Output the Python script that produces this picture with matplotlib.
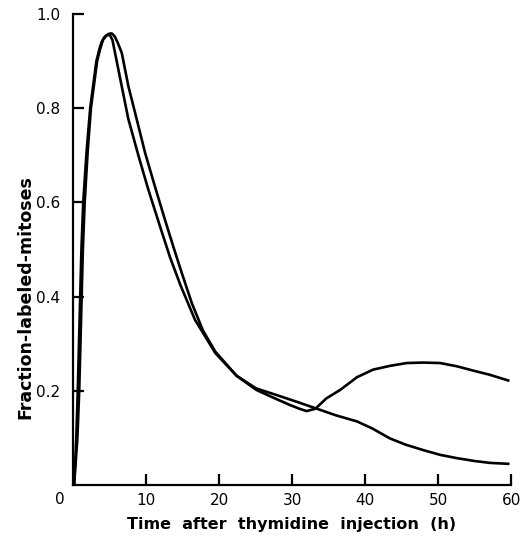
import matplotlib.pyplot as plt
from matplotlib.transforms import blended_transform_factory

# curve with the second wave
t_wave = [0.15, 0.6, 0.85, 1.1, 1.35, 1.6, 2.0, 2.45, 3.3, 3.7, 4.1, 4.5, 4.9, 5.3, 5.7,
          6.1, 6.67, 7.58, 8.72, 9.86, 11.2, 12.5, 13.7, 14.9, 16.3, 17.8, 19.5, 22.4, 25.1,
          27.5, 29.7, 31.0, 32.0, 33.2, 34.7, 36.6, 38.9, 41.1, 43.4, 45.7, 48.0, 50.3,
          52.6, 54.8, 57.1, 59.6]
y_wave = [0.0, 0.1, 0.2, 0.35, 0.5, 0.6, 0.706, 0.8, 0.9, 0.925, 0.945, 0.953, 0.958, 0.959, 0.953,
          0.94, 0.918, 0.847, 0.777, 0.706, 0.635, 0.568, 0.508, 0.45, 0.385, 0.328, 0.283, 0.232, 0.202,
          0.185, 0.170, 0.162, 0.157, 0.162, 0.184, 0.202, 0.229, 0.245, 0.253, 0.259, 0.260, 0.259,
          0.252, 0.243, 0.234, 0.222]

# curve that keeps falling
t_fall = [0.15, 0.45, 0.65, 0.9, 1.15, 1.4, 1.85, 2.35, 3.2, 3.6, 3.9, 4.3, 4.7, 5.07, 5.4,
          5.75, 6.67, 7.58, 8.95, 10.3, 11.9, 13.3, 14.7, 16.7, 19.5, 22.4, 25.1, 27.5,
          30.6, 33.4, 36.0, 38.9, 41.0, 43.4, 45.5, 48.0, 50.3, 52.6, 55.0, 57.1, 59.6]
y_fall = [0.0, 0.1, 0.2, 0.35, 0.5, 0.6, 0.706, 0.8, 0.9, 0.925, 0.94, 0.951, 0.956, 0.955, 0.945,
          0.918, 0.847, 0.777, 0.70, 0.628, 0.55, 0.483, 0.425, 0.351, 0.280, 0.232, 0.205, 0.193,
          0.177, 0.162, 0.148, 0.135, 0.12, 0.099, 0.086, 0.074, 0.064, 0.057, 0.051, 0.047, 0.045]

xticks = [10, 20, 30, 40, 50, 60]
yticks = [0.2, 0.4, 0.6, 0.8, 1.0]

plt.rcParams['font.family'] = ['DejaVu Sans']

fig = plt.figure(figsize=(5.31, 5.37), dpi=100)
ax = fig.add_axes([0.1375, 0.0968, 0.825, 0.877])

ax.plot(t_wave, y_wave, color='black', lw=1.9, solid_joinstyle='round')
ax.plot(t_fall, y_fall, color='black', lw=1.9, solid_joinstyle='round')

ax.set_xlim(0, 60)
ax.set_ylim(0, 1.0)
ax.spines['top'].set_visible(False)
ax.spines['right'].set_visible(False)
for s in ['left', 'bottom']:
    ax.spines[s].set_linewidth(1.6)

ax.set_xticks(xticks)
ax.set_xticklabels([str(v) for v in xticks])
ax.set_yticks(yticks)
ax.set_yticklabels(['%.1f' % v for v in yticks])
ax.tick_params(direction='in', length=8, width=1.6, labelsize=11)
ax.tick_params(axis='y', pad=9)
ax.tick_params(axis='x', pad=6)

# the zero at the corner sits left of the axis
trans = blended_transform_factory(ax.transData, ax.transAxes)
ax.text(-1.8, -0.015, '0', transform=trans, ha='center', va='top', fontsize=11)

ax.set_xlabel('Time  after  thymidine  injection  (h)', fontsize=11.5,
              fontweight='bold', labelpad=6)
ax.set_ylabel('Fraction-labeled-mitoses', fontsize=12.5, fontweight='bold')
ax.yaxis.set_label_coords(-0.088, 0.40)

fig.savefig('out.png', dpi=100)
